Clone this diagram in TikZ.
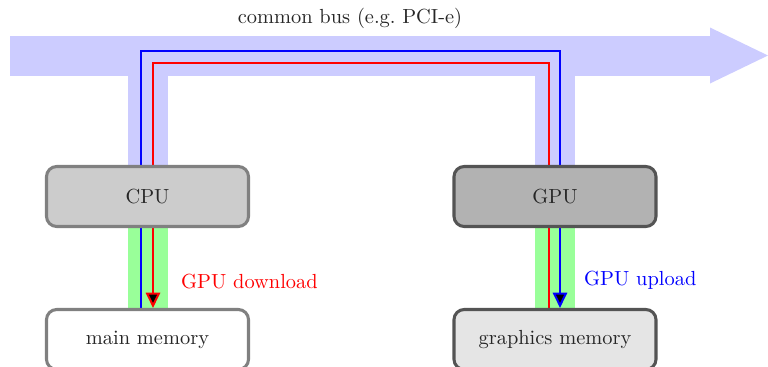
\documentclass[tikz,border=0pt]{standalone}
\usetikzlibrary{calc,arrows.meta,backgrounds}
\definecolor{busblue}{HTML}{CCCCFF}
\definecolor{linkgreen}{HTML}{99FF99}
\tikzset{
  unitbox/.style={rounded corners=5pt, line width=1.5pt, minimum width=99pt,
    minimum height=29.4pt, text=black!85, inner sep=0pt},
  cpubox/.style={unitbox, draw=black!50, fill=black!20},
  gpubox/.style={unitbox, draw=black!67, fill=black!30},
  hostmem/.style={unitbox, draw=black!50, fill=white},
  devmem/.style={unitbox, draw=black!67, fill=black!10},
  busband/.style={draw=busblue, line width=19.6pt},
  linkband/.style={draw=linkgreen, line width=19.6pt},
  transfer/.style={line width=1pt, -{Triangle[length=7.5pt,width=7pt,fill=black]}},
}
\begin{document}
\begin{tikzpicture}[x=0.49pt, y=-0.49pt]
  \useasboundingbox (0,0) rectangle (768,367);

  % processing units and their memories
  \node[cpubox] (cpu) at (147.5,196.5) {CPU};
  \node[gpubox] (gpu) at (555,196.5) {GPU};
  \node[hostmem] (mainmem) at (147.5,339.5) {main memory};
  \node[devmem] (gfxmem) at (555,339.5) {graphics memory};

  % bus geometry
  \coordinate (busL) at (10,55.5);
  \coordinate (busR) at (710,55.5);
  \coordinate (busTip) at (768,55.5);
  \coordinate (blueTop) at (350,51);
  \coordinate (redTop) at (350,63);

  \node[text=black!85] (buslabel) at (350,18) {common bus (e.g.\ PCI-e)};

  \begin{scope}[on background layer]
    % shared bus with its arrow head
    \draw[busband] (busL) -- (busR);
    \fill[busblue] ($(busR)+(0,-28)$) -- (busTip) -- ($(busR)+(0,28)$) -- cycle;
    \draw[busband] (cpu.north) -- (cpu.north |- busL);
    \draw[busband] (gpu.north) -- (gpu.north |- busL);
    % local memory links
    \draw[linkband] (cpu.south) -- (mainmem.north);
    \draw[linkband] (gpu.south) -- (gfxmem.north);
    % transfer paths
    \draw[transfer, blue] ($(mainmem.north)+(-6.5,0)$) |- (blueTop) -| ($(gfxmem.north)+(5,0)$);
    \draw[transfer, red] ($(gfxmem.north)+(-6,0)$) |- (redTop) -| ($(mainmem.north)+(5.5,0)$);
  \end{scope}

  \node[text=red, anchor=west] (dl) at (174,282) {GPU download};
  \node[text=blue, anchor=west] (ul) at (577,280) {GPU upload};
\end{tikzpicture}
\end{document}
